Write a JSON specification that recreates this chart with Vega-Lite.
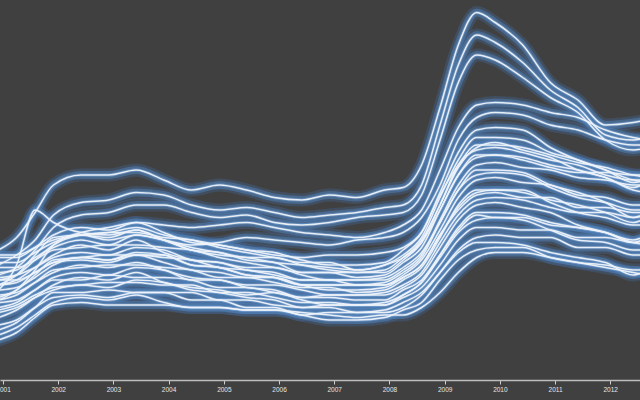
{
"$schema":"https://vega.github.io/schema/vega-lite/v6.json",
"width":640,"height":380,
"autosize":{"type":"none"},
"padding":{"left":0,"top":0,"right":0,"bottom":20},
"background":"#404040",
"config":{"view":{"stroke":null}},
"data":{"values":[
{"s":1,"d":"2000-12","v":5.2},{"s":1,"d":"2001-04","v":5.7},{"s":1,"d":"2001-08","v":6.7},{"s":1,"d":"2001-12","v":7.8},{"s":1,"d":"2002-06","v":8.2},{"s":1,"d":"2002-12","v":8.2},{"s":1,"d":"2003-06","v":8.4},{"s":1,"d":"2003-12","v":8.0},{"s":1,"d":"2004-06","v":7.6},{"s":1,"d":"2004-12","v":7.8},{"s":1,"d":"2005-06","v":7.6},{"s":1,"d":"2005-12","v":7.3},{"s":1,"d":"2006-06","v":7.2},{"s":1,"d":"2006-12","v":7.4},{"s":1,"d":"2007-06","v":7.3},{"s":1,"d":"2007-12","v":7.6},{"s":1,"d":"2008-04","v":7.7},{"s":1,"d":"2008-08","v":8.6},{"s":1,"d":"2008-12","v":10.9},{"s":1,"d":"2009-04","v":13.4},{"s":1,"d":"2009-08","v":14.7},{"s":1,"d":"2009-12","v":14.3},{"s":1,"d":"2010-06","v":13.4},{"s":1,"d":"2010-12","v":11.9},{"s":1,"d":"2011-06","v":11.2},{"s":1,"d":"2011-12","v":10.2},{"s":1,"d":"2012-06","v":10.3},{"s":1,"d":"2012-09","v":10.4},
{"s":2,"d":"2000-12","v":4.6},{"s":2,"d":"2001-04","v":5.0},{"s":2,"d":"2001-08","v":5.6},{"s":2,"d":"2001-12","v":6.6},{"s":2,"d":"2002-06","v":7.1},{"s":2,"d":"2002-12","v":7.2},{"s":2,"d":"2003-06","v":7.5},{"s":2,"d":"2003-12","v":7.4},{"s":2,"d":"2004-06","v":7.0},{"s":2,"d":"2004-12","v":6.8},{"s":2,"d":"2005-06","v":6.9},{"s":2,"d":"2005-12","v":6.7},{"s":2,"d":"2006-06","v":6.5},{"s":2,"d":"2006-12","v":6.6},{"s":2,"d":"2007-06","v":6.7},{"s":2,"d":"2007-12","v":6.9},{"s":2,"d":"2008-04","v":7.0},{"s":2,"d":"2008-08","v":7.8},{"s":2,"d":"2008-12","v":10.2},{"s":2,"d":"2009-04","v":12.6},{"s":2,"d":"2009-08","v":13.8},{"s":2,"d":"2009-12","v":13.5},{"s":2,"d":"2010-06","v":12.7},{"s":2,"d":"2010-12","v":11.6},{"s":2,"d":"2011-06","v":10.9},{"s":2,"d":"2011-12","v":9.8},{"s":2,"d":"2012-06","v":9.6},{"s":2,"d":"2012-09","v":9.7},
{"s":3,"d":"2000-12","v":4.2},{"s":3,"d":"2001-04","v":4.5},{"s":3,"d":"2001-08","v":5.2},{"s":3,"d":"2001-12","v":6.1},{"s":3,"d":"2002-06","v":6.6},{"s":3,"d":"2002-12","v":6.7},{"s":3,"d":"2003-06","v":7.0},{"s":3,"d":"2003-12","v":7.0},{"s":3,"d":"2004-06","v":6.7},{"s":3,"d":"2004-12","v":6.5},{"s":3,"d":"2005-06","v":6.6},{"s":3,"d":"2005-12","v":6.3},{"s":3,"d":"2006-06","v":6.2},{"s":3,"d":"2006-12","v":6.3},{"s":3,"d":"2007-06","v":6.5},{"s":3,"d":"2007-12","v":6.6},{"s":3,"d":"2008-04","v":6.7},{"s":3,"d":"2008-08","v":7.4},{"s":3,"d":"2008-12","v":9.6},{"s":3,"d":"2009-04","v":11.9},{"s":3,"d":"2009-08","v":13.0},{"s":3,"d":"2009-12","v":12.8},{"s":3,"d":"2010-06","v":12.1},{"s":3,"d":"2010-12","v":11.3},{"s":3,"d":"2011-06","v":10.7},{"s":3,"d":"2011-12","v":9.6},{"s":3,"d":"2012-06","v":9.2},{"s":3,"d":"2012-09","v":9.3},
{"s":4,"d":"2000-12","v":3.2},{"s":4,"d":"2001-04","v":3.6},{"s":4,"d":"2001-08","v":4.4},{"s":4,"d":"2001-12","v":5.4},{"s":4,"d":"2002-06","v":5.9},{"s":4,"d":"2002-12","v":6.1},{"s":4,"d":"2003-06","v":6.3},{"s":4,"d":"2003-12","v":6.2},{"s":4,"d":"2004-06","v":6.1},{"s":4,"d":"2004-12","v":6.2},{"s":4,"d":"2005-06","v":6.3},{"s":4,"d":"2005-12","v":6.1},{"s":4,"d":"2006-06","v":5.9},{"s":4,"d":"2006-12","v":5.8},{"s":4,"d":"2007-06","v":5.7},{"s":4,"d":"2007-12","v":5.9},{"s":4,"d":"2008-04","v":6.2},{"s":4,"d":"2008-08","v":6.8},{"s":4,"d":"2008-12","v":8.4},{"s":4,"d":"2009-04","v":10.1},{"s":4,"d":"2009-08","v":11.0},{"s":4,"d":"2009-12","v":11.1},{"s":4,"d":"2010-06","v":11.0},{"s":4,"d":"2010-12","v":10.7},{"s":4,"d":"2011-06","v":10.5},{"s":4,"d":"2011-12","v":10.0},{"s":4,"d":"2012-06","v":9.7},{"s":4,"d":"2012-09","v":9.6},
{"s":5,"d":"2000-12","v":3.8},{"s":5,"d":"2001-04","v":4.2},{"s":5,"d":"2001-08","v":5.0},{"s":5,"d":"2001-12","v":5.7},{"s":5,"d":"2002-06","v":5.8},{"s":5,"d":"2002-12","v":5.6},{"s":5,"d":"2003-06","v":5.8},{"s":5,"d":"2003-12","v":5.6},{"s":5,"d":"2004-06","v":5.4},{"s":5,"d":"2004-12","v":5.5},{"s":5,"d":"2005-06","v":5.7},{"s":5,"d":"2005-12","v":5.6},{"s":5,"d":"2006-06","v":5.5},{"s":5,"d":"2006-12","v":5.4},{"s":5,"d":"2007-06","v":5.6},{"s":5,"d":"2007-12","v":5.7},{"s":5,"d":"2008-04","v":5.9},{"s":5,"d":"2008-08","v":6.5},{"s":5,"d":"2008-12","v":7.8},{"s":5,"d":"2009-04","v":9.6},{"s":5,"d":"2009-08","v":10.5},{"s":5,"d":"2009-12","v":10.7},{"s":5,"d":"2010-06","v":10.6},{"s":5,"d":"2010-12","v":10.2},{"s":5,"d":"2011-06","v":10.0},{"s":5,"d":"2011-12","v":9.6},{"s":5,"d":"2012-06","v":9.4},{"s":5,"d":"2012-09","v":9.4},
{"s":6,"d":"2000-12","v":3.6},{"s":6,"d":"2001-04","v":4.6},{"s":6,"d":"2001-08","v":6.8},{"s":6,"d":"2001-12","v":6.3},{"s":6,"d":"2002-06","v":5.9},{"s":6,"d":"2002-12","v":5.8},{"s":6,"d":"2003-06","v":6.0},{"s":6,"d":"2003-12","v":5.6},{"s":6,"d":"2004-06","v":5.2},{"s":6,"d":"2004-12","v":5.0},{"s":6,"d":"2005-06","v":4.9},{"s":6,"d":"2005-12","v":4.7},{"s":6,"d":"2006-06","v":4.6},{"s":6,"d":"2006-12","v":4.5},{"s":6,"d":"2007-06","v":4.4},{"s":6,"d":"2007-12","v":4.6},{"s":6,"d":"2008-04","v":4.9},{"s":6,"d":"2008-08","v":5.6},{"s":6,"d":"2008-12","v":7.0},{"s":6,"d":"2009-04","v":8.6},{"s":6,"d":"2009-08","v":9.2},{"s":6,"d":"2009-12","v":9.3},{"s":6,"d":"2010-06","v":9.1},{"s":6,"d":"2010-12","v":8.8},{"s":6,"d":"2011-06","v":8.6},{"s":6,"d":"2011-12","v":8.2},{"s":6,"d":"2012-06","v":8.0},{"s":6,"d":"2012-09","v":8.0},
{"s":7,"d":"2000-12","v":1.6},{"s":7,"d":"2001-04","v":1.9},{"s":7,"d":"2001-08","v":2.5},{"s":7,"d":"2001-12","v":3.0},{"s":7,"d":"2002-06","v":3.1},{"s":7,"d":"2002-12","v":3.0},{"s":7,"d":"2003-06","v":3.0},{"s":7,"d":"2003-12","v":3.0},{"s":7,"d":"2004-06","v":2.9},{"s":7,"d":"2004-12","v":2.9},{"s":7,"d":"2005-06","v":2.8},{"s":7,"d":"2005-12","v":2.8},{"s":7,"d":"2006-06","v":2.7},{"s":7,"d":"2006-12","v":2.6},{"s":7,"d":"2007-06","v":2.5},{"s":7,"d":"2007-12","v":2.6},{"s":7,"d":"2008-04","v":2.6},{"s":7,"d":"2008-08","v":2.9},{"s":7,"d":"2008-12","v":3.5},{"s":7,"d":"2009-04","v":4.3},{"s":7,"d":"2009-08","v":4.9},{"s":7,"d":"2009-12","v":5.1},{"s":7,"d":"2010-06","v":5.1},{"s":7,"d":"2010-12","v":4.9},{"s":7,"d":"2011-06","v":4.7},{"s":7,"d":"2011-12","v":4.5},{"s":7,"d":"2012-06","v":4.3},{"s":7,"d":"2012-09","v":4.2},
{"s":8,"d":"2000-12","v":1.8},{"s":8,"d":"2001-04","v":2.1},{"s":8,"d":"2001-08","v":2.6},{"s":8,"d":"2001-12","v":3.1},{"s":8,"d":"2002-06","v":3.3},{"s":8,"d":"2002-12","v":3.2},{"s":8,"d":"2003-06","v":3.4},{"s":8,"d":"2003-12","v":3.1},{"s":8,"d":"2004-06","v":2.9},{"s":8,"d":"2004-12","v":2.9},{"s":8,"d":"2005-06","v":2.8},{"s":8,"d":"2005-12","v":2.8},{"s":8,"d":"2006-06","v":2.6},{"s":8,"d":"2006-12","v":2.4},{"s":8,"d":"2007-06","v":2.4},{"s":8,"d":"2007-12","v":2.5},{"s":8,"d":"2008-04","v":2.8},{"s":8,"d":"2008-08","v":3.1},{"s":8,"d":"2008-12","v":4.0},{"s":8,"d":"2009-04","v":4.8},{"s":8,"d":"2009-08","v":5.2},{"s":8,"d":"2009-12","v":5.3},{"s":8,"d":"2010-06","v":5.3},{"s":8,"d":"2010-12","v":4.9},{"s":8,"d":"2011-06","v":4.7},{"s":8,"d":"2011-12","v":4.6},{"s":8,"d":"2012-06","v":4.4},{"s":8,"d":"2012-09","v":4.4},
{"s":9,"d":"2000-12","v":2.2},{"s":9,"d":"2001-04","v":2.4},{"s":9,"d":"2001-08","v":2.9},{"s":9,"d":"2001-12","v":3.3},{"s":9,"d":"2002-06","v":3.4},{"s":9,"d":"2002-12","v":3.3},{"s":9,"d":"2003-06","v":3.5},{"s":9,"d":"2003-12","v":3.5},{"s":9,"d":"2004-06","v":3.2},{"s":9,"d":"2004-12","v":3.2},{"s":9,"d":"2005-06","v":2.9},{"s":9,"d":"2005-12","v":2.9},{"s":9,"d":"2006-06","v":2.6},{"s":9,"d":"2006-12","v":2.7},{"s":9,"d":"2007-06","v":2.7},{"s":9,"d":"2007-12","v":2.7},{"s":9,"d":"2008-04","v":2.9},{"s":9,"d":"2008-08","v":3.4},{"s":9,"d":"2008-12","v":4.3},{"s":9,"d":"2009-04","v":5.2},{"s":9,"d":"2009-08","v":5.7},{"s":9,"d":"2009-12","v":5.8},{"s":9,"d":"2010-06","v":5.7},{"s":9,"d":"2010-12","v":5.7},{"s":9,"d":"2011-06","v":5.3},{"s":9,"d":"2011-12","v":5.3},{"s":9,"d":"2012-06","v":5.0},{"s":9,"d":"2012-09","v":5.0},
{"s":10,"d":"2000-12","v":2.0},{"s":10,"d":"2001-04","v":2.3},{"s":10,"d":"2001-08","v":2.9},{"s":10,"d":"2001-12","v":3.5},{"s":10,"d":"2002-06","v":3.5},{"s":10,"d":"2002-12","v":3.6},{"s":10,"d":"2003-06","v":3.5},{"s":10,"d":"2003-12","v":3.5},{"s":10,"d":"2004-06","v":3.5},{"s":10,"d":"2004-12","v":3.2},{"s":10,"d":"2005-06","v":3.2},{"s":10,"d":"2005-12","v":3.0},{"s":10,"d":"2006-06","v":2.9},{"s":10,"d":"2006-12","v":2.9},{"s":10,"d":"2007-06","v":2.7},{"s":10,"d":"2007-12","v":2.8},{"s":10,"d":"2008-04","v":3.1},{"s":10,"d":"2008-08","v":3.5},{"s":10,"d":"2008-12","v":4.3},{"s":10,"d":"2009-04","v":5.1},{"s":10,"d":"2009-08","v":5.5},{"s":10,"d":"2009-12","v":5.5},{"s":10,"d":"2010-06","v":5.4},{"s":10,"d":"2010-12","v":5.1},{"s":10,"d":"2011-06","v":4.9},{"s":10,"d":"2011-12","v":4.7},{"s":10,"d":"2012-06","v":4.2},{"s":10,"d":"2012-09","v":4.4},
{"s":11,"d":"2000-12","v":2.7},{"s":11,"d":"2001-04","v":2.9},{"s":11,"d":"2001-08","v":3.3},{"s":11,"d":"2001-12","v":3.6},{"s":11,"d":"2002-06","v":3.8},{"s":11,"d":"2002-12","v":3.7},{"s":11,"d":"2003-06","v":4.0},{"s":11,"d":"2003-12","v":3.9},{"s":11,"d":"2004-06","v":3.6},{"s":11,"d":"2004-12","v":3.5},{"s":11,"d":"2005-06","v":3.3},{"s":11,"d":"2005-12","v":3.2},{"s":11,"d":"2006-06","v":2.9},{"s":11,"d":"2006-12","v":3.0},{"s":11,"d":"2007-06","v":3.0},{"s":11,"d":"2007-12","v":3.0},{"s":11,"d":"2008-04","v":3.3},{"s":11,"d":"2008-08","v":3.7},{"s":11,"d":"2008-12","v":4.6},{"s":11,"d":"2009-04","v":5.6},{"s":11,"d":"2009-08","v":6.1},{"s":11,"d":"2009-12","v":6.1},{"s":11,"d":"2010-06","v":6.0},{"s":11,"d":"2010-12","v":6.0},{"s":11,"d":"2011-06","v":5.7},{"s":11,"d":"2011-12","v":5.7},{"s":11,"d":"2012-06","v":5.5},{"s":11,"d":"2012-09","v":5.6},
{"s":12,"d":"2000-12","v":2.5},{"s":12,"d":"2001-04","v":2.8},{"s":12,"d":"2001-08","v":3.3},{"s":12,"d":"2001-12","v":3.8},{"s":12,"d":"2002-06","v":4.1},{"s":12,"d":"2002-12","v":4.0},{"s":12,"d":"2003-06","v":4.3},{"s":12,"d":"2003-12","v":3.9},{"s":12,"d":"2004-06","v":3.7},{"s":12,"d":"2004-12","v":3.6},{"s":12,"d":"2005-06","v":3.4},{"s":12,"d":"2005-12","v":3.5},{"s":12,"d":"2006-06","v":3.2},{"s":12,"d":"2006-12","v":3.0},{"s":12,"d":"2007-06","v":3.0},{"s":12,"d":"2007-12","v":3.1},{"s":12,"d":"2008-04","v":3.4},{"s":12,"d":"2008-08","v":3.9},{"s":12,"d":"2008-12","v":4.9},{"s":12,"d":"2009-04","v":5.9},{"s":12,"d":"2009-08","v":6.4},{"s":12,"d":"2009-12","v":6.5},{"s":12,"d":"2010-06","v":6.4},{"s":12,"d":"2010-12","v":6.0},{"s":12,"d":"2011-06","v":5.6},{"s":12,"d":"2011-12","v":5.5},{"s":12,"d":"2012-06","v":5.2},{"s":12,"d":"2012-09","v":5.2},
{"s":13,"d":"2000-12","v":3.1},{"s":13,"d":"2001-04","v":3.2},{"s":13,"d":"2001-08","v":3.6},{"s":13,"d":"2001-12","v":4.0},{"s":13,"d":"2002-06","v":4.0},{"s":13,"d":"2002-12","v":4.2},{"s":13,"d":"2003-06","v":4.1},{"s":13,"d":"2003-12","v":4.1},{"s":13,"d":"2004-06","v":4.0},{"s":13,"d":"2004-12","v":3.7},{"s":13,"d":"2005-06","v":3.7},{"s":13,"d":"2005-12","v":3.5},{"s":13,"d":"2006-06","v":3.3},{"s":13,"d":"2006-12","v":3.3},{"s":13,"d":"2007-06","v":3.2},{"s":13,"d":"2007-12","v":3.2},{"s":13,"d":"2008-04","v":3.6},{"s":13,"d":"2008-08","v":4.0},{"s":13,"d":"2008-12","v":5.0},{"s":13,"d":"2009-04","v":6.0},{"s":13,"d":"2009-08","v":6.6},{"s":13,"d":"2009-12","v":6.5},{"s":13,"d":"2010-06","v":6.5},{"s":13,"d":"2010-12","v":6.2},{"s":13,"d":"2011-06","v":6.1},{"s":13,"d":"2011-12","v":5.9},{"s":13,"d":"2012-06","v":5.6},{"s":13,"d":"2012-09","v":5.8},
{"s":14,"d":"2000-12","v":2.9},{"s":14,"d":"2001-04","v":3.1},{"s":14,"d":"2001-08","v":3.6},{"s":14,"d":"2001-12","v":4.1},{"s":14,"d":"2002-06","v":4.3},{"s":14,"d":"2002-12","v":4.2},{"s":14,"d":"2003-06","v":4.5},{"s":14,"d":"2003-12","v":4.4},{"s":14,"d":"2004-06","v":4.0},{"s":14,"d":"2004-12","v":4.0},{"s":14,"d":"2005-06","v":3.7},{"s":14,"d":"2005-12","v":3.6},{"s":14,"d":"2006-06","v":3.3},{"s":14,"d":"2006-12","v":3.4},{"s":14,"d":"2007-06","v":3.4},{"s":14,"d":"2007-12","v":3.4},{"s":14,"d":"2008-04","v":3.7},{"s":14,"d":"2008-08","v":4.2},{"s":14,"d":"2008-12","v":5.3},{"s":14,"d":"2009-04","v":6.4},{"s":14,"d":"2009-08","v":7.0},{"s":14,"d":"2009-12","v":7.1},{"s":14,"d":"2010-06","v":6.9},{"s":14,"d":"2010-12","v":6.7},{"s":14,"d":"2011-06","v":6.2},{"s":14,"d":"2011-12","v":5.9},{"s":14,"d":"2012-06","v":5.5},{"s":14,"d":"2012-09","v":5.4},
{"s":15,"d":"2000-12","v":3.4},{"s":15,"d":"2001-04","v":3.5},{"s":15,"d":"2001-08","v":3.9},{"s":15,"d":"2001-12","v":4.3},{"s":15,"d":"2002-06","v":4.6},{"s":15,"d":"2002-12","v":4.5},{"s":15,"d":"2003-06","v":4.7},{"s":15,"d":"2003-12","v":4.4},{"s":15,"d":"2004-06","v":4.1},{"s":15,"d":"2004-12","v":4.0},{"s":15,"d":"2005-06","v":3.8},{"s":15,"d":"2005-12","v":3.8},{"s":15,"d":"2006-06","v":3.6},{"s":15,"d":"2006-12","v":3.4},{"s":15,"d":"2007-06","v":3.4},{"s":15,"d":"2007-12","v":3.5},{"s":15,"d":"2008-04","v":3.8},{"s":15,"d":"2008-08","v":4.3},{"s":15,"d":"2008-12","v":5.5},{"s":15,"d":"2009-04","v":6.6},{"s":15,"d":"2009-08","v":7.2},{"s":15,"d":"2009-12","v":7.3},{"s":15,"d":"2010-06","v":7.2},{"s":15,"d":"2010-12","v":6.9},{"s":15,"d":"2011-06","v":6.7},{"s":15,"d":"2011-12","v":6.7},{"s":15,"d":"2012-06","v":6.5},{"s":15,"d":"2012-09","v":6.6},
{"s":16,"d":"2000-12","v":3.2},{"s":16,"d":"2001-04","v":3.4},{"s":16,"d":"2001-08","v":3.9},{"s":16,"d":"2001-12","v":4.4},{"s":16,"d":"2002-06","v":4.5},{"s":16,"d":"2002-12","v":4.6},{"s":16,"d":"2003-06","v":4.6},{"s":16,"d":"2003-12","v":4.5},{"s":16,"d":"2004-06","v":4.4},{"s":16,"d":"2004-12","v":4.1},{"s":16,"d":"2005-06","v":4.1},{"s":16,"d":"2005-12","v":3.9},{"s":16,"d":"2006-06","v":3.7},{"s":16,"d":"2006-12","v":3.7},{"s":16,"d":"2007-06","v":3.5},{"s":16,"d":"2007-12","v":3.6},{"s":16,"d":"2008-04","v":4.0},{"s":16,"d":"2008-08","v":4.5},{"s":16,"d":"2008-12","v":5.7},{"s":16,"d":"2009-04","v":7.0},{"s":16,"d":"2009-08","v":7.6},{"s":16,"d":"2009-12","v":7.6},{"s":16,"d":"2010-06","v":7.5},{"s":16,"d":"2010-12","v":7.2},{"s":16,"d":"2011-06","v":7.0},{"s":16,"d":"2011-12","v":6.7},{"s":16,"d":"2012-06","v":6.3},{"s":16,"d":"2012-09","v":6.5},
{"s":17,"d":"2000-12","v":3.6},{"s":17,"d":"2001-04","v":3.7},{"s":17,"d":"2001-08","v":4.1},{"s":17,"d":"2001-12","v":4.6},{"s":17,"d":"2002-06","v":4.9},{"s":17,"d":"2002-12","v":4.8},{"s":17,"d":"2003-06","v":5.0},{"s":17,"d":"2003-12","v":4.7},{"s":17,"d":"2004-06","v":4.4},{"s":17,"d":"2004-12","v":4.3},{"s":17,"d":"2005-06","v":4.1},{"s":17,"d":"2005-12","v":4.1},{"s":17,"d":"2006-06","v":3.8},{"s":17,"d":"2006-12","v":3.6},{"s":17,"d":"2007-06","v":3.6},{"s":17,"d":"2007-12","v":3.7},{"s":17,"d":"2008-04","v":4.1},{"s":17,"d":"2008-08","v":4.6},{"s":17,"d":"2008-12","v":5.8},{"s":17,"d":"2009-04","v":6.9},{"s":17,"d":"2009-08","v":7.5},{"s":17,"d":"2009-12","v":7.6},{"s":17,"d":"2010-06","v":7.6},{"s":17,"d":"2010-12","v":7.1},{"s":17,"d":"2011-06","v":6.7},{"s":17,"d":"2011-12","v":6.5},{"s":17,"d":"2012-06","v":6.2},{"s":17,"d":"2012-09","v":6.2},
{"s":18,"d":"2000-12","v":4.0},{"s":18,"d":"2001-04","v":4.0},{"s":18,"d":"2001-08","v":4.3},{"s":18,"d":"2001-12","v":4.7},{"s":18,"d":"2002-06","v":4.9},{"s":18,"d":"2002-12","v":4.8},{"s":18,"d":"2003-06","v":5.1},{"s":18,"d":"2003-12","v":5.0},{"s":18,"d":"2004-06","v":4.6},{"s":18,"d":"2004-12","v":4.5},{"s":18,"d":"2005-06","v":4.2},{"s":18,"d":"2005-12","v":4.1},{"s":18,"d":"2006-06","v":3.8},{"s":18,"d":"2006-12","v":3.8},{"s":18,"d":"2007-06","v":3.8},{"s":18,"d":"2007-12","v":3.8},{"s":18,"d":"2008-04","v":4.2},{"s":18,"d":"2008-08","v":4.8},{"s":18,"d":"2008-12","v":6.0},{"s":18,"d":"2009-04","v":7.3},{"s":18,"d":"2009-08","v":8.0},{"s":18,"d":"2009-12","v":8.1},{"s":18,"d":"2010-06","v":7.9},{"s":18,"d":"2010-12","v":7.8},{"s":18,"d":"2011-06","v":7.4},{"s":18,"d":"2011-12","v":7.3},{"s":18,"d":"2012-06","v":7.0},{"s":18,"d":"2012-09","v":7.0},
{"s":19,"d":"2000-12","v":3.3},{"s":19,"d":"2001-04","v":3.6},{"s":19,"d":"2001-08","v":4.2},{"s":19,"d":"2001-12","v":4.8},{"s":19,"d":"2002-06","v":4.9},{"s":19,"d":"2002-12","v":5.0},{"s":19,"d":"2003-06","v":5.0},{"s":19,"d":"2003-12","v":4.9},{"s":19,"d":"2004-06","v":4.8},{"s":19,"d":"2004-12","v":4.5},{"s":19,"d":"2005-06","v":4.4},{"s":19,"d":"2005-12","v":4.2},{"s":19,"d":"2006-06","v":4.0},{"s":19,"d":"2006-12","v":4.0},{"s":19,"d":"2007-06","v":3.8},{"s":19,"d":"2007-12","v":3.9},{"s":19,"d":"2008-04","v":4.3},{"s":19,"d":"2008-08","v":4.9},{"s":19,"d":"2008-12","v":6.3},{"s":19,"d":"2009-04","v":7.6},{"s":19,"d":"2009-08","v":8.4},{"s":19,"d":"2009-12","v":8.4},{"s":19,"d":"2010-06","v":8.3},{"s":19,"d":"2010-12","v":7.8},{"s":19,"d":"2011-06","v":7.5},{"s":19,"d":"2011-12","v":7.1},{"s":19,"d":"2012-06","v":6.5},{"s":19,"d":"2012-09","v":6.7},
{"s":20,"d":"2000-12","v":4.1},{"s":20,"d":"2001-04","v":4.2},{"s":20,"d":"2001-08","v":4.5},{"s":20,"d":"2001-12","v":4.9},{"s":20,"d":"2002-06","v":5.1},{"s":20,"d":"2002-12","v":5.0},{"s":20,"d":"2003-06","v":5.3},{"s":20,"d":"2003-12","v":5.2},{"s":20,"d":"2004-06","v":4.8},{"s":20,"d":"2004-12","v":4.7},{"s":20,"d":"2005-06","v":4.4},{"s":20,"d":"2005-12","v":4.3},{"s":20,"d":"2006-06","v":4.0},{"s":20,"d":"2006-12","v":4.0},{"s":20,"d":"2007-06","v":4.0},{"s":20,"d":"2007-12","v":4.0},{"s":20,"d":"2008-04","v":4.4},{"s":20,"d":"2008-08","v":5.0},{"s":20,"d":"2008-12","v":6.4},{"s":20,"d":"2009-04","v":7.8},{"s":20,"d":"2009-08","v":8.6},{"s":20,"d":"2009-12","v":8.7},{"s":20,"d":"2010-06","v":8.5},{"s":20,"d":"2010-12","v":8.4},{"s":20,"d":"2011-06","v":8.1},{"s":20,"d":"2011-12","v":8.0},{"s":20,"d":"2012-06","v":7.8},{"s":20,"d":"2012-09","v":7.8},
{"s":21,"d":"2000-12","v":3.8},{"s":21,"d":"2001-04","v":4.0},{"s":21,"d":"2001-08","v":4.5},{"s":21,"d":"2001-12","v":5.0},{"s":21,"d":"2002-06","v":5.4},{"s":21,"d":"2002-12","v":5.2},{"s":21,"d":"2003-06","v":5.6},{"s":21,"d":"2003-12","v":5.1},{"s":21,"d":"2004-06","v":4.8},{"s":21,"d":"2004-12","v":4.7},{"s":21,"d":"2005-06","v":4.5},{"s":21,"d":"2005-12","v":4.5},{"s":21,"d":"2006-06","v":4.2},{"s":21,"d":"2006-12","v":4.0},{"s":21,"d":"2007-06","v":4.0},{"s":21,"d":"2007-12","v":4.1},{"s":21,"d":"2008-04","v":4.5},{"s":21,"d":"2008-08","v":5.1},{"s":21,"d":"2008-12","v":6.3},{"s":21,"d":"2009-04","v":7.6},{"s":21,"d":"2009-08","v":8.2},{"s":21,"d":"2009-12","v":8.3},{"s":21,"d":"2010-06","v":8.2},{"s":21,"d":"2010-12","v":7.7},{"s":21,"d":"2011-06","v":7.3},{"s":21,"d":"2011-12","v":7.1},{"s":21,"d":"2012-06","v":6.8},{"s":21,"d":"2012-09","v":6.8},
{"s":22,"d":"2000-12","v":4.5},{"s":22,"d":"2001-04","v":4.5},{"s":22,"d":"2001-08","v":4.8},{"s":22,"d":"2001-12","v":5.2},{"s":22,"d":"2002-06","v":5.3},{"s":22,"d":"2002-12","v":5.4},{"s":22,"d":"2003-06","v":5.4},{"s":22,"d":"2003-12","v":5.3},{"s":22,"d":"2004-06","v":5.2},{"s":22,"d":"2004-12","v":4.9},{"s":22,"d":"2005-06","v":4.7},{"s":22,"d":"2005-12","v":4.5},{"s":22,"d":"2006-06","v":4.3},{"s":22,"d":"2006-12","v":4.3},{"s":22,"d":"2007-06","v":4.1},{"s":22,"d":"2007-12","v":4.2},{"s":22,"d":"2008-04","v":4.7},{"s":22,"d":"2008-08","v":5.3},{"s":22,"d":"2008-12","v":6.8},{"s":22,"d":"2009-04","v":8.2},{"s":22,"d":"2009-08","v":9.0},{"s":22,"d":"2009-12","v":9.0},{"s":22,"d":"2010-06","v":8.9},{"s":22,"d":"2010-12","v":8.6},{"s":22,"d":"2011-06","v":8.4},{"s":22,"d":"2011-12","v":8.1},{"s":22,"d":"2012-06","v":7.7},{"s":22,"d":"2012-09","v":7.9},
{"s":23,"d":"2000-12","v":4.3},{"s":23,"d":"2001-04","v":4.4},{"s":23,"d":"2001-08","v":4.9},{"s":23,"d":"2001-12","v":5.3},{"s":23,"d":"2002-06","v":5.6},{"s":23,"d":"2002-12","v":5.4},{"s":23,"d":"2003-06","v":5.8},{"s":23,"d":"2003-12","v":5.6},{"s":23,"d":"2004-06","v":5.2},{"s":23,"d":"2004-12","v":5.1},{"s":23,"d":"2005-06","v":4.8},{"s":23,"d":"2005-12","v":4.7},{"s":23,"d":"2006-06","v":4.3},{"s":23,"d":"2006-12","v":4.3},{"s":23,"d":"2007-06","v":4.3},{"s":23,"d":"2007-12","v":4.3},{"s":23,"d":"2008-04","v":4.8},{"s":23,"d":"2008-08","v":5.5},{"s":23,"d":"2008-12","v":7.0},{"s":23,"d":"2009-04","v":8.5},{"s":23,"d":"2009-08","v":9.3},{"s":23,"d":"2009-12","v":9.5},{"s":23,"d":"2010-06","v":9.2},{"s":23,"d":"2010-12","v":8.9},{"s":23,"d":"2011-06","v":8.4},{"s":23,"d":"2011-12","v":8.1},{"s":23,"d":"2012-06","v":7.6},{"s":23,"d":"2012-09","v":7.5},
{"s":24,"d":"2000-12","v":4.7},{"s":24,"d":"2001-04","v":4.7},{"s":24,"d":"2001-08","v":5.1},{"s":24,"d":"2001-12","v":5.5},{"s":24,"d":"2002-06","v":5.8},{"s":24,"d":"2002-12","v":5.7},{"s":24,"d":"2003-06","v":6.0},{"s":24,"d":"2003-12","v":5.6},{"s":24,"d":"2004-06","v":5.3},{"s":24,"d":"2004-12","v":5.1},{"s":24,"d":"2005-06","v":4.9},{"s":24,"d":"2005-12","v":4.9},{"s":24,"d":"2006-06","v":4.6},{"s":24,"d":"2006-12","v":4.4},{"s":24,"d":"2007-06","v":4.3},{"s":24,"d":"2007-12","v":4.4},{"s":24,"d":"2008-04","v":4.9},{"s":24,"d":"2008-08","v":5.5},{"s":24,"d":"2008-12","v":6.8},{"s":24,"d":"2009-04","v":8.2},{"s":24,"d":"2009-08","v":8.9},{"s":24,"d":"2009-12","v":9.0},{"s":24,"d":"2010-06","v":8.8},{"s":24,"d":"2010-12","v":8.5},{"s":24,"d":"2011-06","v":8.3},{"s":24,"d":"2011-12","v":8.3},{"s":24,"d":"2012-06","v":8.2},{"s":24,"d":"2012-09","v":8.2},
{"s":25,"d":"2000-12","v":5.0},{"s":25,"d":"2001-04","v":5.0},{"s":25,"d":"2001-08","v":5.3},{"s":25,"d":"2001-12","v":5.6},{"s":25,"d":"2002-06","v":5.8},{"s":25,"d":"2002-12","v":5.9},{"s":25,"d":"2003-06","v":5.9},{"s":25,"d":"2003-12","v":5.7},{"s":25,"d":"2004-06","v":5.6},{"s":25,"d":"2004-12","v":5.3},{"s":25,"d":"2005-06","v":5.1},{"s":25,"d":"2005-12","v":4.9},{"s":25,"d":"2006-06","v":4.7},{"s":25,"d":"2006-12","v":4.7},{"s":25,"d":"2007-06","v":4.4},{"s":25,"d":"2007-12","v":4.6},{"s":25,"d":"2008-04","v":5.0},{"s":25,"d":"2008-08","v":5.7},{"s":25,"d":"2008-12","v":7.3},{"s":25,"d":"2009-04","v":8.8},{"s":25,"d":"2009-08","v":9.7},{"s":25,"d":"2009-12","v":9.7},{"s":25,"d":"2010-06","v":9.6},{"s":25,"d":"2010-12","v":9.1},{"s":25,"d":"2011-06","v":8.8},{"s":25,"d":"2011-12","v":8.4},{"s":25,"d":"2012-06","v":7.9},{"s":25,"d":"2012-09","v":8.0},
{"s":26,"d":"2000-12","v":4.9},{"s":26,"d":"2001-04","v":4.9},{"s":26,"d":"2001-08","v":5.3},{"s":26,"d":"2001-12","v":5.8},{"s":26,"d":"2002-06","v":6.1},{"s":26,"d":"2002-12","v":6.0},{"s":26,"d":"2003-06","v":6.3},{"s":26,"d":"2003-12","v":5.9},{"s":26,"d":"2004-06","v":5.5},{"s":26,"d":"2004-12","v":5.4},{"s":26,"d":"2005-06","v":5.2},{"s":26,"d":"2005-12","v":5.1},{"s":26,"d":"2006-06","v":4.8},{"s":26,"d":"2006-12","v":4.6},{"s":26,"d":"2007-06","v":4.6},{"s":26,"d":"2007-12","v":4.7},{"s":26,"d":"2008-04","v":5.2},{"s":26,"d":"2008-08","v":5.9},{"s":26,"d":"2008-12","v":7.5},{"s":26,"d":"2009-04","v":9.1},{"s":26,"d":"2009-08","v":10.0},{"s":26,"d":"2009-12","v":10.1},{"s":26,"d":"2010-06","v":10.0},{"s":26,"d":"2010-12","v":9.3},{"s":26,"d":"2011-06","v":8.8},{"s":26,"d":"2011-12","v":8.4},{"s":26,"d":"2012-06","v":8.0},{"s":26,"d":"2012-09","v":7.9},
{"s":27,"d":"2000-12","v":3.8},{"s":27,"d":"2001-04","v":3.9},{"s":27,"d":"2001-08","v":4.3},{"s":27,"d":"2001-12","v":4.7},{"s":27,"d":"2002-06","v":4.8},{"s":27,"d":"2002-12","v":4.7},{"s":27,"d":"2003-06","v":5.0},{"s":27,"d":"2003-12","v":5.0},{"s":27,"d":"2004-06","v":4.6},{"s":27,"d":"2004-12","v":4.5},{"s":27,"d":"2005-06","v":4.2},{"s":27,"d":"2005-12","v":4.1},{"s":27,"d":"2006-06","v":3.8},{"s":27,"d":"2006-12","v":3.8},{"s":27,"d":"2007-06","v":3.8},{"s":27,"d":"2007-12","v":3.8},{"s":27,"d":"2008-04","v":4.1},{"s":27,"d":"2008-08","v":4.6},{"s":27,"d":"2008-12","v":5.8},{"s":27,"d":"2009-04","v":6.8},{"s":27,"d":"2009-08","v":7.4},{"s":27,"d":"2009-12","v":7.5},{"s":27,"d":"2010-06","v":7.3},{"s":27,"d":"2010-12","v":7.3},{"s":27,"d":"2011-06","v":6.9},{"s":27,"d":"2011-12","v":6.9},{"s":27,"d":"2012-06","v":6.7},{"s":27,"d":"2012-09","v":6.7},
{"s":28,"d":"2000-12","v":2.8},{"s":28,"d":"2001-04","v":3.0},{"s":28,"d":"2001-08","v":3.4},{"s":28,"d":"2001-12","v":3.7},{"s":28,"d":"2002-06","v":3.8},{"s":28,"d":"2002-12","v":3.9},{"s":28,"d":"2003-06","v":3.9},{"s":28,"d":"2003-12","v":3.8},{"s":28,"d":"2004-06","v":3.8},{"s":28,"d":"2004-12","v":3.5},{"s":28,"d":"2005-06","v":3.5},{"s":28,"d":"2005-12","v":3.3},{"s":28,"d":"2006-06","v":3.1},{"s":28,"d":"2006-12","v":3.1},{"s":28,"d":"2007-06","v":3.0},{"s":28,"d":"2007-12","v":3.0},{"s":28,"d":"2008-04","v":3.4},{"s":28,"d":"2008-08","v":3.9},{"s":28,"d":"2008-12","v":5.0},{"s":28,"d":"2009-04","v":6.1},{"s":28,"d":"2009-08","v":6.7},{"s":28,"d":"2009-12","v":6.7},{"s":28,"d":"2010-06","v":6.6},{"s":28,"d":"2010-12","v":6.3},{"s":28,"d":"2011-06","v":6.1},{"s":28,"d":"2011-12","v":5.9},{"s":28,"d":"2012-06","v":5.5},{"s":28,"d":"2012-09","v":5.7},
{"s":29,"d":"2000-12","v":4.0},{"s":29,"d":"2001-04","v":4.2},{"s":29,"d":"2001-08","v":4.8},{"s":29,"d":"2001-12","v":5.4},{"s":29,"d":"2002-06","v":5.8},{"s":29,"d":"2002-12","v":5.9},{"s":29,"d":"2003-06","v":6.1},{"s":29,"d":"2003-12","v":5.8},{"s":29,"d":"2004-06","v":5.6},{"s":29,"d":"2004-12","v":5.4},{"s":29,"d":"2005-06","v":5.2},{"s":29,"d":"2005-12","v":5.0},{"s":29,"d":"2006-06","v":4.9},{"s":29,"d":"2006-12","v":5.0},{"s":29,"d":"2007-06","v":5.0},{"s":29,"d":"2007-12","v":5.1},{"s":29,"d":"2008-04","v":5.3},{"s":29,"d":"2008-08","v":5.9},{"s":29,"d":"2008-12","v":7.4},{"s":29,"d":"2009-04","v":8.6},{"s":29,"d":"2009-08","v":9.4},{"s":29,"d":"2009-12","v":9.4},{"s":29,"d":"2010-06","v":9.3},{"s":29,"d":"2010-12","v":9.0},{"s":29,"d":"2011-06","v":8.7},{"s":29,"d":"2011-12","v":8.5},{"s":29,"d":"2012-06","v":8.2},{"s":29,"d":"2012-09","v":8.1}
]},
"encoding":{
"x":{"field":"d","type":"temporal","title":null,
"scale":{"type":"utc","domain":[{"year":2000,"month":12,"date":12,"utc":true},{"year":2012,"month":7,"date":16,"utc":true}]},
"axis":{"values":[{"year":2001,"utc":true},{"year":2002,"utc":true},{"year":2003,"utc":true},{"year":2004,"utc":true},{"year":2005,"utc":true},{"year":2006,"utc":true},{"year":2007,"utc":true},{"year":2008,"utc":true},{"year":2009,"utc":true},{"year":2010,"utc":true},{"year":2011,"utc":true},{"year":2012,"utc":true}],
"format":"%Y","grid":false,"domainColor":"#bdbdbd","domainWidth":1.5,"tickColor":"#cfcfcf","tickSize":4,"tickWidth":1,"labelColor":"#e6e6e6","labelFont":"Liberation Sans","labelFontSize":6.5,"labelPadding":2,"labelFlush":false,"labelOverlap":false}},
"y":{"field":"v","type":"quantitative","axis":null,"scale":{"domain":[0,15.2],"nice":false,"zero":false}},
"detail":{"field":"s","type":"nominal"}
},
"layer":[
{"mark":{"type":"line","interpolate":"monotone","clip":true,"stroke":"#45699a","strokeWidth":13,"opacity":0.35,"strokeCap":"round","strokeJoin":"round"}},
{"mark":{"type":"line","interpolate":"monotone","clip":true,"stroke":"#4f7db3","strokeWidth":8,"opacity":0.55,"strokeCap":"round","strokeJoin":"round"}},
{"mark":{"type":"line","interpolate":"monotone","clip":true,"stroke":"#7ea6d6","strokeWidth":3.5,"opacity":0.5,"strokeCap":"round","strokeJoin":"round"}},
{"mark":{"type":"line","interpolate":"monotone","clip":true,"stroke":"#eef3fa","strokeWidth":1.5,"opacity":0.95,"strokeCap":"round","strokeJoin":"round"}}
]
}
